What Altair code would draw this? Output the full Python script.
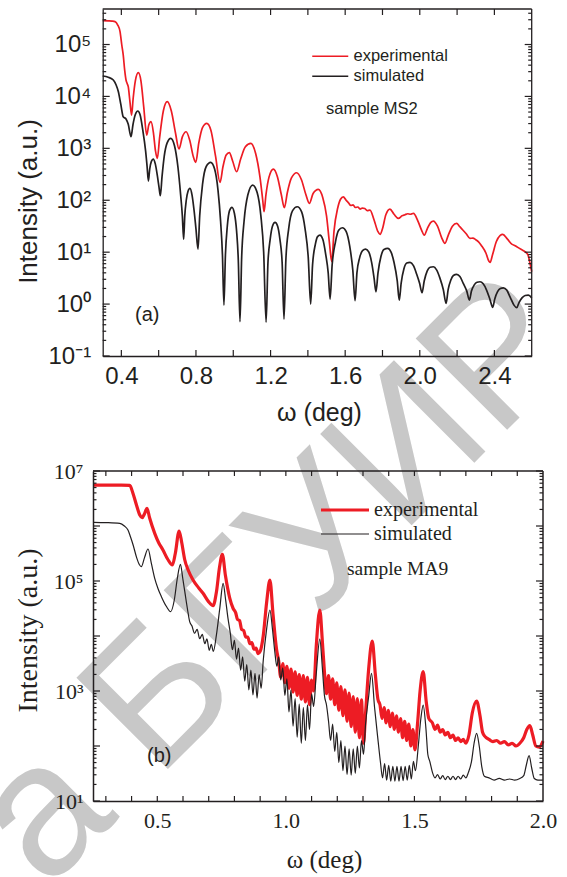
import altair as alt
import pandas as pd

SERIES = ["experimental", "simulated"]
RED = "#ed1c24"
INK = "#231f20"
SANS = "Liberation Sans"
SERIF = "Liberation Serif"

# ---- panel (a): sample MS2, pairs of (omega, log10 intensity)
A_EXP = [(0.300, 5.459), (0.330, 5.455), (0.350, 5.45), (0.366, 5.44), (0.380, 5.38), (0.393, 5.247),
         (0.402, 5.00), (0.410, 4.80), (0.418, 4.50), (0.425, 4.316), (0.431, 4.25), (0.437, 4.187),
         (0.446, 3.90), (0.455, 3.64), (0.463, 3.95), (0.475, 4.30), (0.491, 4.457), (0.505, 4.30),
         (0.520, 3.80), (0.536, 3.256), (0.547, 3.45), (0.559, 3.513), (0.572, 3.30), (0.583, 2.95),
         (0.593, 2.807), (0.605, 3.20), (0.625, 3.72), (0.646, 3.898), (0.668, 3.72), (0.690, 3.30),
         (0.709, 2.987), (0.727, 3.22), (0.747, 3.32), (0.767, 3.15), (0.785, 2.85), (0.799, 2.730),
         (0.815, 3.10), (0.835, 3.40), (0.858, 3.481), (0.880, 3.35), (0.905, 2.85), (0.929, 2.345),
         (0.945, 2.65), (0.962, 2.87), (0.979, 2.916), (0.997, 2.75), (1.018, 2.549), (1.040, 2.80),
         (1.065, 3.03), (1.094, 3.096), (1.120, 2.90), (1.143, 2.45), (1.158, 2.00), (1.165, 1.779),
         (1.175, 2.10), (1.192, 2.45), (1.215, 2.601), (1.237, 2.45), (1.258, 2.10), (1.274, 1.856),
         (1.290, 2.15), (1.312, 2.43), (1.340, 2.530), (1.365, 2.40), (1.390, 2.10), (1.408, 1.940),
         (1.428, 2.13), (1.456, 2.21), (1.480, 2.05), (1.500, 1.70), (1.515, 1.20), (1.528, 0.815),
         (1.540, 1.40), (1.560, 1.85), (1.575, 2.02), (1.590, 2.067), (1.605, 2.00), (1.618, 1.95),
         (1.630, 1.90), (1.642, 1.91), (1.655, 1.86), (1.668, 1.87), (1.680, 1.830), (1.692, 1.85),
         (1.705, 1.84), (1.718, 1.80), (1.733, 1.811), (1.755, 1.62), (1.775, 1.40), (1.787, 1.343),
         (1.800, 1.45), (1.818, 1.72), (1.840, 1.830), (1.862, 1.73), (1.885, 1.651), (1.905, 1.70),
         (1.920, 1.72), (1.935, 1.74), (1.950, 1.73), (1.966, 1.747), (1.990, 1.60), (2.010, 1.42),
         (2.024, 1.329), (2.040, 1.45), (2.058, 1.57), (2.073, 1.599), (2.095, 1.50), (2.117, 1.28),
         (2.135, 1.169), (2.152, 1.32), (2.175, 1.50), (2.198, 1.554), (2.212, 1.50), (2.225, 1.45),
         (2.250, 1.35), (2.269, 1.265), (2.285, 1.27), (2.300, 1.24), (2.315, 1.20), (2.330, 1.13),
         (2.355, 0.98), (2.370, 0.83), (2.377, 0.803), (2.390, 0.95), (2.410, 1.20), (2.430, 1.32),
         (2.445, 1.343), (2.470, 1.25), (2.495, 1.15), (2.508, 1.13), (2.520, 1.104), (2.545, 1.05),
         (2.564, 1.008), (2.580, 0.95), (2.590, 0.80), (2.600, 0.623)]

A_SIM = [(0.300, 4.393), (0.330, 4.37), (0.357, 4.316), (0.372, 4.22), (0.384, 4.091), (0.397, 3.85),
         (0.410, 3.609), (0.425, 3.565), (0.437, 3.462), (0.452, 3.224), (0.462, 3.45), (0.475, 3.65),
         (0.488, 3.719), (0.500, 3.65), (0.515, 3.35), (0.530, 2.95), (0.538, 2.65), (0.545, 2.370),
         (0.552, 2.60), (0.561, 2.75), (0.571, 2.794), (0.582, 2.70), (0.594, 2.45), (0.602, 2.25),
         (0.609, 2.087), (0.618, 2.45), (0.630, 2.85), (0.645, 3.10), (0.665, 3.193), (0.685, 3.05),
         (0.703, 2.65), (0.718, 2.10), (0.727, 1.70), (0.734, 1.246), (0.740, 1.70), (0.748, 2.00),
         (0.757, 2.17), (0.768, 2.229), (0.779, 2.10), (0.790, 1.80), (0.800, 1.45), (0.811, 1.060),
         (0.820, 1.70), (0.835, 2.30), (0.855, 2.65), (0.879, 2.730), (0.900, 2.60), (0.918, 2.20),
         (0.932, 1.60), (0.942, 0.95), (0.950, -0.019), (0.958, 0.95), (0.968, 1.50), (0.980, 1.80),
         (0.993, 1.863), (1.006, 1.75), (1.018, 1.40), (1.027, 0.85), (1.036, -0.34), (1.045, 0.90),
         (1.058, 1.60), (1.078, 2.10), (1.104, 2.293), (1.128, 2.15), (1.148, 1.70), (1.163, 1.00),
         (1.176, -0.347), (1.186, 0.80), (1.198, 1.25), (1.210, 1.50), (1.224, 1.574), (1.238, 1.50),
         (1.250, 1.25), (1.262, 0.80), (1.272, -0.289), (1.282, 0.85), (1.297, 1.45), (1.318, 1.80),
         (1.343, 1.875), (1.366, 1.78), (1.385, 1.45), (1.402, 0.90), (1.415, 0.00), (1.425, 0.75),
         (1.440, 1.15), (1.452, 1.30), (1.465, 1.329), (1.480, 1.25), (1.496, 0.95), (1.509, 0.60),
         (1.519, 0.096), (1.530, 0.75), (1.548, 1.20), (1.565, 1.42), (1.585, 1.470), (1.605, 1.40),
         (1.625, 1.10), (1.641, 0.65), (1.653, 0.064), (1.663, 0.60), (1.678, 0.90), (1.693, 1.03),
         (1.710, 1.060), (1.727, 1.00), (1.742, 0.80), (1.755, 0.50), (1.765, 0.237), (1.776, 0.60),
         (1.792, 0.92), (1.808, 1.05), (1.828, 1.072), (1.846, 1.00), (1.862, 0.80), (1.879, 0.45),
         (1.890, 0.077), (1.900, 0.40), (1.915, 0.68), (1.930, 0.79), (1.948, 0.803), (1.966, 0.74),
         (1.983, 0.58), (1.999, 0.40), (2.012, 0.218), (2.024, 0.45), (2.040, 0.64), (2.055, 0.71),
         (2.073, 0.719), (2.090, 0.66), (2.108, 0.50), (2.126, 0.28), (2.141, 0.013), (2.152, 0.28),
         (2.166, 0.46), (2.180, 0.55), (2.198, 0.572), (2.215, 0.53), (2.233, 0.40), (2.252, 0.25),
         (2.266, 0.077), (2.277, 0.25), (2.292, 0.37), (2.307, 0.42), (2.323, 0.430), (2.340, 0.39),
         (2.358, 0.27), (2.377, 0.08), (2.391, -0.064), (2.402, 0.10), (2.417, 0.24), (2.432, 0.30),
         (2.448, 0.314), (2.466, 0.27), (2.485, 0.13), (2.505, -0.02), (2.520, -0.07), (2.532, 0.03),
         (2.548, 0.12), (2.565, 0.165), (2.582, 0.173), (2.600, 0.12)]

# ---- panel (b): sample MA9
B_EXP = [(0.253, 6.745), (0.300, 6.745), (0.360, 6.745), (0.393, 6.74), (0.405, 6.60), (0.419, 6.382),
         (0.432, 6.20), (0.441, 6.151), (0.450, 6.22), (0.460, 6.321), (0.470, 6.15), (0.490, 5.867),
         (0.505, 5.70), (0.522, 5.564), (0.540, 5.40), (0.559, 5.291), (0.570, 5.50), (0.585, 5.909),
         (0.595, 5.70), (0.607, 5.382), (0.620, 5.20), (0.639, 5.018), (0.660, 4.88), (0.678, 4.776),
         (0.700, 4.62), (0.717, 4.551), (0.730, 4.80), (0.742, 5.25), (0.753, 5.485), (0.765, 5.10),
         (0.782, 4.685), (0.795, 4.50), (0.805, 4.42), (0.812, 4.30), (0.820, 4.28), (0.828, 4.12),
         (0.836, 4.10), (0.844, 3.98), (0.852, 3.98), (0.860, 3.86), (0.868, 3.88), (0.876, 3.76),
         (0.884, 3.78), (0.892, 3.68), (0.900, 3.72), (0.912, 4.00), (0.925, 4.60), (0.938, 5.018),
         (0.950, 4.40), (0.964, 3.75), (0.972, 3.55), (0.980, 3.25), (0.988, 3.50), (0.996, 3.15),
         (1.004, 3.45), (1.012, 3.05), (1.020, 3.40), (1.028, 2.98), (1.036, 3.35), (1.044, 2.92),
         (1.052, 3.30), (1.060, 2.85), (1.068, 3.28), (1.076, 2.80), (1.084, 3.25), (1.092, 2.75),
         (1.100, 3.20), (1.108, 3.00), (1.118, 3.80), (1.132, 4.473), (1.142, 3.90), (1.150, 3.35),
         (1.158, 2.95), (1.166, 3.28), (1.174, 2.85), (1.182, 3.22), (1.190, 2.75), (1.198, 3.15),
         (1.206, 2.65), (1.214, 3.08), (1.222, 2.55), (1.230, 3.02), (1.238, 2.45), (1.246, 2.96),
         (1.254, 2.35), (1.262, 2.90), (1.270, 2.25), (1.278, 2.86), (1.286, 2.15), (1.294, 2.84),
         (1.302, 2.05), (1.310, 2.60), (1.322, 3.40), (1.336, 3.909), (1.348, 3.30), (1.358, 2.85),
         (1.366, 2.75), (1.374, 2.50), (1.382, 2.70), (1.390, 2.42), (1.398, 2.65), (1.406, 2.35),
         (1.414, 2.60), (1.422, 2.30), (1.430, 2.55), (1.438, 2.25), (1.446, 2.50), (1.454, 2.15),
         (1.462, 2.45), (1.470, 2.10), (1.478, 2.40), (1.486, 2.00), (1.494, 2.30), (1.502, 1.93),
         (1.512, 2.40), (1.522, 3.00), (1.534, 3.351), (1.546, 2.80), (1.556, 2.50), (1.570, 2.42),
         (1.580, 2.30), (1.590, 2.38), (1.600, 2.25), (1.610, 2.30), (1.620, 2.20), (1.630, 2.25),
         (1.640, 2.15), (1.650, 2.20), (1.660, 2.10), (1.670, 2.15), (1.680, 2.08), (1.690, 2.12),
         (1.700, 2.05), (1.712, 2.20), (1.725, 2.60), (1.742, 2.818), (1.755, 2.55), (1.765, 2.25),
         (1.775, 2.17), (1.790, 2.12), (1.805, 2.08), (1.820, 2.10), (1.835, 2.05), (1.850, 2.08),
         (1.865, 2.02), (1.880, 2.05), (1.895, 2.00), (1.910, 2.05), (1.925, 2.15), (1.937, 2.30),
         (1.949, 2.369), (1.960, 2.20), (1.972, 2.00), (1.985, 1.98), (2.000, 2.09)]

B_SIM = [(0.253, 6.067), (0.300, 6.062), (0.354, 6.048), (0.372, 6.00), (0.386, 5.927), (0.396, 5.80),
         (0.406, 5.655), (0.420, 5.42), (0.430, 5.30), (0.438, 5.261), (0.450, 5.42), (0.464, 5.582),
         (0.477, 5.32), (0.490, 5.049), (0.503, 4.86), (0.516, 4.715), (0.535, 4.54), (0.552, 4.442),
         (0.566, 4.65), (0.578, 5.05), (0.590, 5.303), (0.599, 5.05), (0.607, 4.806), (0.617, 4.50),
         (0.626, 4.261), (0.635, 4.18), (0.645, 4.05), (0.655, 4.12), (0.665, 3.95), (0.675, 4.03),
         (0.685, 3.86), (0.693, 3.95), (0.702, 3.74), (0.710, 3.85), (0.718, 3.72), (0.730, 4.02),
         (0.743, 4.50), (0.756, 4.958), (0.766, 4.65), (0.775, 4.32), (0.784, 4.05), (0.792, 3.75),
         (0.800, 3.92), (0.808, 3.58), (0.816, 3.78), (0.824, 3.38), (0.832, 3.62), (0.840, 3.18),
         (0.848, 3.48), (0.856, 3.02), (0.864, 3.38), (0.872, 2.93), (0.880, 3.32), (0.888, 2.87),
         (0.896, 3.30), (0.904, 3.05), (0.912, 3.55), (0.925, 4.12), (0.938, 4.473), (0.948, 4.12),
         (0.957, 3.715), (0.965, 3.45), (0.972, 3.62), (0.980, 3.20), (0.988, 3.42), (0.996, 2.92),
         (1.004, 3.22), (1.012, 2.62), (1.020, 3.02), (1.028, 2.36), (1.036, 2.86), (1.044, 2.16),
         (1.052, 2.76), (1.060, 2.05), (1.068, 2.70), (1.076, 2.10), (1.084, 2.75), (1.092, 2.30),
         (1.100, 2.95), (1.108, 2.72), (1.118, 3.30), (1.132, 3.945), (1.142, 3.42), (1.150, 2.92),
         (1.158, 2.745), (1.166, 2.45), (1.174, 2.10), (1.182, 2.40), (1.190, 1.90), (1.198, 2.25),
         (1.206, 1.70), (1.214, 2.10), (1.222, 1.55), (1.230, 2.00), (1.238, 1.48), (1.246, 1.95),
         (1.254, 1.47), (1.262, 1.95), (1.270, 1.50), (1.278, 2.00), (1.286, 1.60), (1.294, 2.10),
         (1.302, 1.85), (1.310, 2.40), (1.322, 2.90), (1.333, 3.321), (1.345, 2.70), (1.359, 2.079),
         (1.368, 1.70), (1.376, 1.42), (1.384, 1.68), (1.392, 1.38), (1.400, 1.65), (1.408, 1.36),
         (1.416, 1.63), (1.424, 1.36), (1.432, 1.63), (1.440, 1.36), (1.448, 1.63), (1.456, 1.37),
         (1.464, 1.63), (1.472, 1.38), (1.480, 1.65), (1.488, 1.40), (1.496, 1.72), (1.504, 1.55),
         (1.515, 2.00), (1.525, 2.50), (1.534, 2.745), (1.545, 2.30), (1.552, 1.85), (1.560, 1.715),
         (1.570, 1.52), (1.580, 1.42), (1.590, 1.48), (1.600, 1.40), (1.610, 1.46), (1.620, 1.39),
         (1.630, 1.45), (1.640, 1.39), (1.650, 1.45), (1.660, 1.39), (1.670, 1.45), (1.680, 1.40),
         (1.690, 1.47), (1.700, 1.42), (1.710, 1.52), (1.722, 1.72), (1.732, 2.05), (1.742, 2.231),
         (1.752, 2.00), (1.762, 1.62), (1.772, 1.45), (1.790, 1.42), (1.810, 1.38), (1.830, 1.41),
         (1.850, 1.38), (1.870, 1.40), (1.890, 1.38), (1.910, 1.41), (1.925, 1.46), (1.935, 1.65),
         (1.946, 1.824), (1.956, 1.60), (1.966, 1.41), (1.980, 1.38), (2.000, 1.38)]

# ---- tick positions / labels
A_XLABELS = [0.4, 0.8, 1.2, 1.6, 2.0, 2.4]
A_XTICKS = [0.4, 0.6, 0.8, 1.0, 1.2, 1.4, 1.6, 1.8, 2.0, 2.2, 2.4]
A_YMAJOR = [0.1, 1, 10, 100, 1000, 1e4, 1e5]
A_YMINOR = [k * 10.0 ** e for e in range(-1, 5) for k in range(2, 10)] + [2e5, 3e5, 4e5]
B_XLABELS = [0.5, 1.0, 1.5, 2.0]
B_XTICKS = [0.3, 0.4, 0.5, 0.6, 0.7, 0.8, 0.9, 1.0, 1.1, 1.2, 1.3, 1.4, 1.5, 1.6, 1.7, 1.8, 1.9]
B_YMAJOR = [10, 100, 1000, 1e4, 1e5, 1e6, 1e7]
B_YLABELS = [10, 1e3, 1e5, 1e7]
B_YMINOR = [k * 10.0 ** e for e in range(1, 7) for k in range(2, 10)]

SUP = ("datum.value < 0.5 ? '10\u207b\u00b9' : '10' + "
       "['\u2070','\u00b9','\u00b2','\u00b3','\u2074','\u2075','\u2076','\u2077']"
       "[round(log(datum.value) / LN10)]")


def lines_df(exp, sim):
    rows = [{"x": x, "I": 10 ** v, "series": "experimental"} for x, v in exp]
    rows += [{"x": x, "I": 10 ** v, "series": "simulated"} for x, v in sim]
    return pd.DataFrame(rows)


A_DF = lines_df(A_EXP, A_SIM)
B_DF = lines_df(B_EXP, B_SIM)

W, H = 450, 792
A_TOP, A_BOT, A_LEFT, A_RIGHT = 0, 347, 9.7, 438.7
B_TOP, B_BOT, B_LEFT, B_RIGHT = 462, 792, 0, 450
A_XDOM, A_YDOM = [0.3, 2.6], [0.1, 483000]
B_XDOM, B_YDOM = [0.25, 2.0], [10, 1e7]

A_XS = alt.Scale(domain=A_XDOM, range=[A_LEFT, A_RIGHT], nice=False, zero=False)
A_YS = alt.Scale(type="log", domain=A_YDOM, range=[A_BOT, A_TOP], nice=False)
B_XS = alt.Scale(domain=B_XDOM, range=[B_LEFT, B_RIGHT], nice=False, zero=False)
B_YS = alt.Scale(type="log", domain=B_YDOM, range=[B_BOT, B_TOP], nice=False)


def vticks(xs, values, y0, y1, w=1.2):
    """inward ticks on a horizontal frame edge, placed by the x scale"""
    return alt.Chart(pd.DataFrame({"v": values})).mark_rule(color=INK, strokeWidth=w).encode(
        x=alt.X("v:Q", scale=xs, axis=None), y=alt.value(y0), y2=alt.value(y1))


def hticks(ys, values, x0, x1, w=1.2):
    """inward ticks on a vertical frame edge, placed by the y scale"""
    return alt.Chart(pd.DataFrame({"v": values})).mark_rule(color=INK, strokeWidth=w).encode(
        y=alt.Y("v:Q", scale=ys, axis=None), x=alt.value(x0), x2=alt.value(x1))


def hedge(xs, dom, y, w):
    return alt.Chart(pd.DataFrame({"a": [dom[0]], "b": [dom[1]]})).mark_rule(
        color=INK, strokeWidth=w).encode(
        x=alt.X("a:Q", scale=xs, axis=None), x2="b:Q", y=alt.value(y))


def vedge(ys, dom, x, w):
    return alt.Chart(pd.DataFrame({"a": [dom[0]], "b": [dom[1]]})).mark_rule(
        color=INK, strokeWidth=w).encode(
        y=alt.Y("a:Q", scale=ys, axis=None), y2="b:Q", x=alt.value(x))


def note(text, x, y, font, size, baseline="middle"):
    return alt.Chart(pd.DataFrame({"t": [text]})).mark_text(
        text=text, font=font, fontSize=size, color=INK, align="left", baseline=baseline
    ).encode(x=alt.value(x), y=alt.value(y))


# watermark (behind everything)
watermark = alt.Chart(pd.DataFrame({"t": ["w"]})).mark_text(
    text="Библиотека БГУИР", font=SANS, fontSize=188, color="#c8c8c8",
    angle=315, align="right", baseline="alphabetic"
).encode(x=alt.value(492), y=alt.value(343))

# ---- panel (a) lines with label axes
a_lines = alt.Chart(A_DF).mark_line(interpolate="monotone", strokeWidth=1.7).encode(
    x=alt.X("x:Q", scale=A_XS, axis=alt.Axis(
        orient="bottom", offset=-(H - A_BOT), values=A_XLABELS, format=".1f", zindex=1,
        ticks=False, tickSize=0, domain=True, domainColor=INK, domainWidth=1.3,
        labelFont=SANS, labelFontSize=24, labelColor=INK, labelPadding=8,
        labelOverlap=False, labelFlush=False, labelBound=False, grid=False,
        title="ω (deg)", titleFont=SANS, titleFontSize=25, titleFontWeight="normal",
        titleColor=INK, titleX=226, titleY=44, titleBaseline="top", titleAlign="center")),
    y=alt.Y("I:Q", scale=A_YS, axis=alt.Axis(
        orient="left", offset=-A_LEFT, values=A_YMAJOR, labelExpr=SUP, zindex=1,
        ticks=False, tickSize=0, domain=True, domainColor=INK, domainWidth=1.3,
        labelFont=SANS, labelFontSize=24, labelColor=INK, labelPadding=12,
        labelOverlap=False, labelFlush=False, labelBound=False, grid=False,
        title="Intensity (a.u.)", titleFont=SANS, titleFontSize=26, titleFontWeight="normal",
        titleColor=INK, titleX=-61, titleY=192, titleAngle=270, titleBaseline="bottom",
        titleAlign="center")),
    color=alt.Color("series:N", scale=alt.Scale(domain=SERIES, range=[RED, INK]),
                    legend=alt.Legend(orient="none", legendX=229, legendY=39, title=None,
                                      symbolType="M-3,0H3", symbolSize=144, symbolStrokeWidth=1.7,
                                      labelFont=SANS, labelFontSize=16.5, labelColor=INK,
                                      labelOffset=15, rowPadding=3, padding=0, zindex=1)),
)

# ---- panel (b) lines with label axes
b_leg = alt.Legend(orient="none", legendX=242, legendY=491, title=None,
                   symbolType="M-3,0H3", symbolSize=256,
                   labelFont=SERIF, labelFontSize=20, labelColor=INK,
                   labelOffset=19, rowPadding=4, padding=0, zindex=1)
b_lines = alt.Chart(B_DF).mark_line(interpolate="monotone").encode(
    x=alt.X("x:Q", scale=B_XS, axis=alt.Axis(
        orient="bottom", offset=0, values=B_XLABELS, format=".1f", zindex=1,
        ticks=False, tickSize=0, domain=True, domainColor=INK, domainWidth=1.5,
        labelFont=SERIF, labelFontSize=22, labelColor=INK, labelPadding=9,
        labelOverlap=False, labelFlush=False, labelBound=False, grid=False,
        title="ω (deg)", titleFont=SERIF, titleFontSize=25, titleFontWeight="normal",
        titleColor=INK, titleX=231, titleY=46, titleBaseline="top", titleAlign="center")),
    y=alt.Y("I:Q", scale=B_YS, axis=alt.Axis(
        orient="left", offset=0, values=B_YLABELS, labelExpr=SUP, zindex=1,
        ticks=False, tickSize=0, domain=True, domainColor=INK, domainWidth=1.5,
        labelFont=SERIF, labelFontSize=22, labelColor=INK, labelPadding=10,
        labelOverlap=False, labelFlush=False, labelBound=False, grid=False,
        title="Intensity (a.u.)", titleFont=SERIF, titleFontSize=28, titleFontWeight="normal",
        titleColor=INK, titleX=-51, titleY=621, titleAngle=270, titleBaseline="bottom",
        titleAlign="center")),
    color=alt.Color("series:N", scale=alt.Scale(domain=SERIES, range=[RED, INK]), legend=b_leg),
    strokeWidth=alt.StrokeWidth("series:N", scale=alt.Scale(domain=SERIES, range=[3.2, 1.2]),
                                legend=b_leg),
)

# ---- frame edges and inward ticks
frame = [
    # panel (a)
    hedge(A_XS, A_XDOM, A_TOP, 1.3),
    vedge(A_YS, A_YDOM, A_RIGHT, 1.3),
    vticks(A_XS, A_XTICKS, A_BOT, A_BOT - 6),
    vticks(A_XS, A_XTICKS, A_TOP, A_TOP + 6),
    hticks(A_YS, A_YMAJOR, A_LEFT, A_LEFT + 7),
    hticks(A_YS, A_YMINOR, A_LEFT, A_LEFT + 3.5),
    hticks(A_YS, A_YMAJOR, A_RIGHT, A_RIGHT - 7),
    hticks(A_YS, A_YMINOR, A_RIGHT, A_RIGHT - 3.5),
    # panel (b)
    hedge(B_XS, B_XDOM, B_TOP, 1.5),
    vedge(B_YS, B_YDOM, B_RIGHT, 1.5),
    vticks(B_XS, B_XTICKS, B_BOT, B_BOT - 5),
    vticks(B_XS, B_XTICKS, B_TOP, B_TOP + 5),
    hticks(B_YS, B_YMAJOR, B_LEFT, B_LEFT + 7),
    hticks(B_YS, B_YMINOR, B_LEFT, B_LEFT + 3.5),
    hticks(B_YS, B_YMAJOR, B_RIGHT, B_RIGHT - 7),
    hticks(B_YS, B_YMINOR, B_RIGHT, B_RIGHT - 3.5),
]

notes = [
    note("sample MS2", 233, 105, SANS, 16.5, baseline="alphabetic"),
    note("(a)", 42, 306, SANS, 20),
    note("sample MA9", 254, 566, SERIF, 19.5, baseline="alphabetic"),
    note("(b)", 54, 747, SANS, 20),
]

chart = alt.layer(watermark, a_lines, b_lines, *frame, *notes).resolve_scale(
    x="independent", y="independent", color="independent", strokeWidth="independent"
).resolve_axis(
    x="independent", y="independent"
).resolve_legend(
    color="independent", strokeWidth="independent"
).properties(
    width=W, height=H,
    autosize=alt.AutoSizeParams(type="none"),
    padding={"left": 93, "top": 9, "right": 24, "bottom": 76},
).configure_view(strokeWidth=0)

chart.save("out.html", embed_options={"renderer": "svg", "actions": False})
